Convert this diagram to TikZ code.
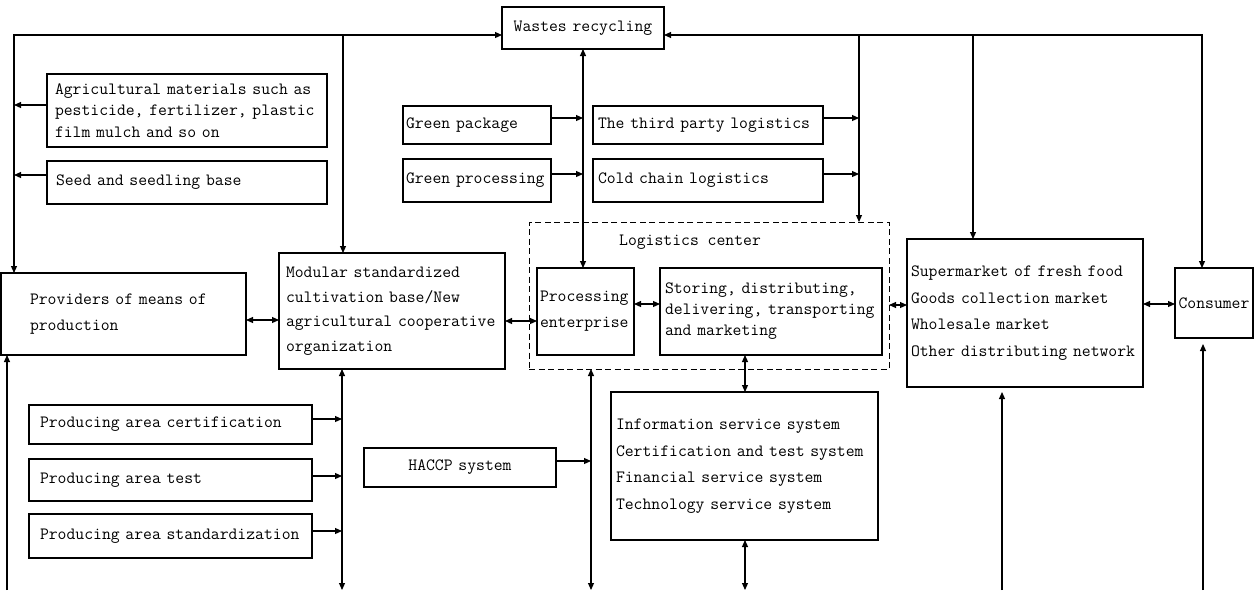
\documentclass[tikz,border=0pt]{standalone}
\usepackage{fontspec}
\usetikzlibrary{arrows.meta}
\newcommand{\mf}[1]{\ttfamily\fontsize{17.2}{#1}\selectfont}
\begin{document}
\begin{tikzpicture}[x=1pt,y=-1pt,
  >={Triangle[length=7pt,width=6pt]},
  line width=1.1pt,
  box/.style={draw, anchor=north west, outer sep=0pt, inner ysep=0pt, align=left,
    font=\mf{25}},
  cbox/.style={box, align=center},
  lcbox/.style={draw, dashed, dash pattern=on 6pt off 3.5pt, line width=1pt, anchor=north west, outer sep=0pt, inner sep=0pt}]
\useasboundingbox (0,0) rectangle (1258,590);

% boxes
\node[cbox, minimum width=162pt, minimum height=42pt, text width=154pt, inner xsep=4pt] (waste) at (502,7) {Wastes recycling};
\node[box, minimum width=280pt, minimum height=73pt, text width=264pt, inner xsep=8pt, font=\mf{21.5}] (agri) at (47,74) {Agricultural materials such as\\pesticide, fertilizer, plastic\\film mulch and so on};
\node[box, minimum width=280pt, minimum height=43pt, text width=262pt, inner xsep=9pt] (seed) at (47,161) {Seed and seedling base};
\node[box, minimum width=148pt, minimum height=38pt, text width=142pt, inner xsep=3pt] (gpack) at (403,106) {Green package};
\node[box, minimum width=148pt, minimum height=43pt, text width=142pt, inner xsep=3pt] (gproc) at (403,159) {Green processing};
\node[box, minimum width=230pt, minimum height=38pt, text width=220pt, inner xsep=5pt] (third) at (593,106) {The third party logistics};
\node[box, minimum width=230pt, minimum height=43pt, text width=220pt, inner xsep=5pt] (cold) at (593,159) {Cold chain logistics};
\node[box, minimum width=245pt, minimum height=82pt, text width=187pt, inner xsep=29pt, font=\mf{26}] (prov) at (1,273) {Providers of means of\\production};
\node[box, minimum width=226pt, minimum height=116pt, text width=212pt, inner xsep=7pt, font=\mf{24.5}] (modular) at (279,253) {Modular standardized\\cultivation base/New\\agricultural cooperative\\organization};
\node[lcbox, minimum width=360pt, minimum height=147pt] (lc) at (529,222) {};
\node[font=\mf{25}, inner sep=0pt] (lclabel) at (690,242) {Logistics center};
\node[box, minimum width=97pt, minimum height=87pt, text width=91pt, inner xsep=3pt, font=\mf{26}] (proc) at (537,268) {Processing\\enterprise};
\node[box, minimum width=222pt, minimum height=87pt, text width=212pt, inner xsep=5pt, font=\mf{21}] (stor) at (660,268) {Storing, distributing,\\delivering, transporting\\and marketing};
\node[box, minimum width=267pt, minimum height=148pt, text width=257pt, inner xsep=5pt, font=\mf{26.5}] (info) at (611,392) {Information service system\\Certification and test system\\Financial service system\\Technology service system};
\node[box, minimum width=236pt, minimum height=148pt, text width=228pt, inner xsep=4pt, font=\mf{26.7}] (super) at (907,239) {Supermarket of fresh food\\Goods collection market\\Wholesale market\\Other distributing network};
\node[cbox, minimum width=78pt, minimum height=70pt, text width=74pt, inner xsep=2pt] (cons) at (1175,268) {Consumer};
\node[box, minimum width=283pt, minimum height=39pt, text width=261pt, inner xsep=11pt] (cert) at (29,405) {Producing area certification};
\node[box, minimum width=283pt, minimum height=42pt, text width=261pt, inner xsep=11pt] (test) at (29,459) {Producing area test};
\node[box, minimum width=283pt, minimum height=44pt, text width=261pt, inner xsep=11pt] (stdz) at (29,514) {Producing area standardization};
\node[cbox, minimum width=192pt, minimum height=39pt, text width=184pt, inner xsep=4pt] (haccp) at (364,448) {HACCP system};

% helper coordinates
\coordinate (tl) at (14,35);
\coordinate (tr) at (1202,35);
\coordinate (m1) at (343,35);
\coordinate (l1) at (859,35);
\coordinate (s1) at (973,35);
\coordinate (h320) at (0,320);
\coordinate (h321) at (0,321);
\coordinate (h304) at (0,304);
\coordinate (h305) at (0,305);
\coordinate (h461) at (0,461);
\coordinate (h419) at (0,419);
\coordinate (h476) at (0,476);
\coordinate (h531) at (0,531);
\coordinate (v745) at (745,590);
\coordinate (v591) at (591,590);
\coordinate (v342) at (342,590);
\coordinate (v7) at (7,590);
\coordinate (v1002) at (1002,590);
\coordinate (v1203) at (1203,590);

% top distribution lines
\draw[<->] (prov.north -| tl) -- (tl) -- (waste.west |- tl);
\draw[<->] (waste.east |- tr) -- (tr) -- (cons.north -| tr);
\draw[->] (m1) -- (m1 |- modular.north);
\draw[->] (l1) -- (l1 |- lc.north);
\draw[->] (s1) -- (s1 |- super.north);
\draw[<->] (waste.south) -- (waste.south |- proc.north);

% side inputs
\draw[->] ([yshift=5.5pt]agri.west) -- ([yshift=5.5pt]agri.west -| tl);
\draw[->] ([yshift=7.5pt]seed.west) -- ([yshift=7.5pt]seed.west -| tl);
\draw[->] ([yshift=7pt]gpack.east) -- ([yshift=7pt]gpack.east -| waste.south);
\draw[->] ([yshift=6.5pt]gproc.east) -- ([yshift=6.5pt]gproc.east -| waste.south);
\draw[->] ([yshift=7pt]third.east) -- ([yshift=7pt]third.east -| l1);
\draw[->] ([yshift=6.5pt]cold.east) -- ([yshift=6.5pt]cold.east -| l1);

% main chain
\draw[<->] (prov.east |- h320) -- (modular.west |- h320);
\draw[<->] (modular.east |- h321) -- (proc.west |- h321);
\draw[<->] (proc.east |- h304) -- (stor.west |- h304);
\draw[<->] (lc.east |- h305) -- (super.west |- h305);
\draw[<->] (super.east |- h304) -- (cons.west |- h304);

% lower verticals
\draw[<->] (stor.south -| v745) -- (info.north -| v745);
\draw[<->] (info.south -| v745) -- (v745);
\draw[<->] (lc.south -| v591) -- (v591);
\draw[->] (haccp.east |- h461) -- (v591 |- h461);
\draw[<->] (modular.south -| v342) -- (v342);
\draw[->] (cert.east |- h419) -- (v342 |- h419);
\draw[->] (test.east |- h476) -- (v342 |- h476);
\draw[->] (stdz.east |- h531) -- (v342 |- h531);
\draw[->] (v7) -- (v7 |- prov.south);
\draw[->, shorten >=5pt] (v1002) -- (v1002 |- super.south);
\draw[->, shorten >=6pt] (v1203) -- (v1203 |- cons.south);
\end{tikzpicture}
\end{document}
